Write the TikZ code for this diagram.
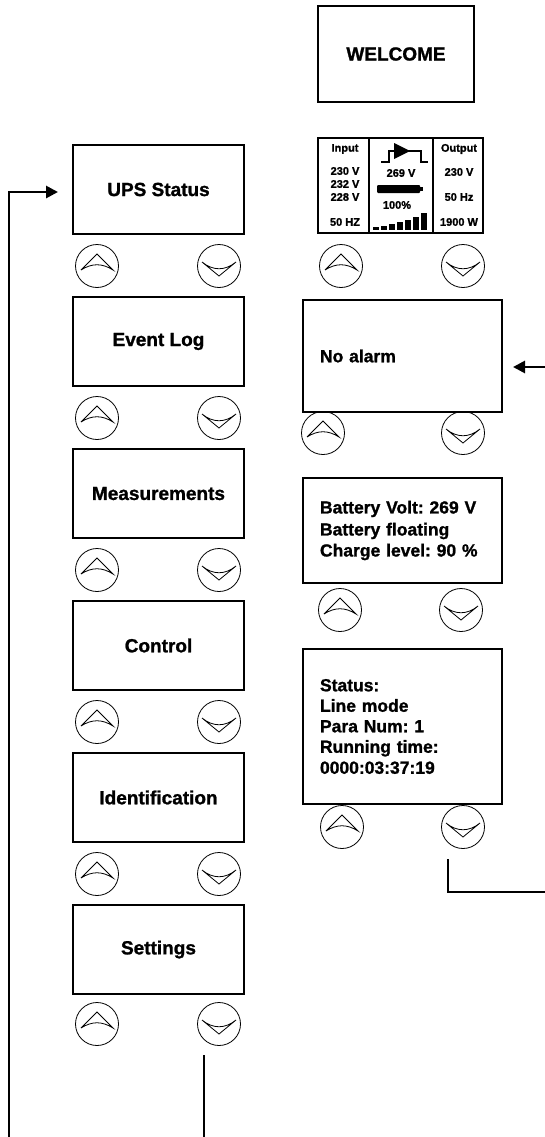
\documentclass[tikz,border=0pt]{standalone}
\usepackage{fontspec}
\setmainfont{Liberation Sans}[BoldFeatures={FakeBold=1.2}]
\usetikzlibrary{arrows.meta}
\frenchspacing

\newcommand{\upkey}[2]{%
  \node[keybtn] (#1) at (#2) {};
  \draw[glyph] ([shift={(-16,4)}]#1.center) -- ([shift={(0,-12)}]#1.center) -- ([shift={(16,4)}]#1.center)
    .. controls ([shift={(5,-3)}]#1.center) and ([shift={(-5,-3)}]#1.center) .. ([shift={(-16,4)}]#1.center);}
\newcommand{\downkey}[2]{%
  \node[keybtn] (#1) at (#2) {};
  \draw[glyph] ([shift={(-17,-4)}]#1.center) -- ([shift={(0,10)}]#1.center) -- ([shift={(17,-4)}]#1.center)
    .. controls ([shift={(6,5)}]#1.center) and ([shift={(-6,5)}]#1.center) .. ([shift={(-17,-4)}]#1.center);}

\begin{document}
\begin{tikzpicture}[x=1pt, y=-1pt,
	menubox/.style={rectangle, draw=black, line width=2.8pt, minimum width=171pt, minimum height=89pt, font=\fontsize{19}{22}\selectfont\bfseries},
	screen/.style={rectangle, draw=black, line width=2.8pt, inner xsep=17pt, text width=165pt, align=left, font=\fontsize{17.5}{21}\selectfont\bfseries},
	keybtn/.style={circle, draw=black, line width=0.8pt, minimum size=43pt, inner sep=0pt},
	glyph/.style={line width=0.8pt, line join=miter},
	conn/.style={line width=2.8pt},
	lcd/.style={font=\fontsize{11}{12}\selectfont\bfseries, inner sep=0pt}]
		
		\useasboundingbox (0,0) rectangle (545,1137);
		
		% Menu column
		\node[menubox] (ups) at (158.5, 189.5) {UPS Status};
		\upkey{upsu}{97, 266} \downkey{upsd}{219, 266}
		\node[menubox] (log) at (158.5, 341.5) {Event Log};
		\upkey{logu}{97, 418} \downkey{logd}{219, 418}
		\node[menubox] (meas) at (158.5, 493.5) {Measurements};
		\upkey{measu}{97, 570} \downkey{measd}{219, 570}
		\node[menubox] (ctrl) at (158.5, 645.5) {Control};
		\upkey{ctrlu}{97, 722} \downkey{ctrld}{219, 722}
		\node[menubox] (ident) at (158.5, 797.5) {Identification};
		\upkey{identu}{97, 874} \downkey{identd}{219, 874}
		\node[menubox] (set) at (158.5, 949.5) {Settings};
		\upkey{setu}{97, 1024} \downkey{setd}{219, 1024}
		
		% Screen column
		\node[menubox, minimum width=156pt, minimum height=96pt] (welcome) at (396, 54) {WELCOME};
		
		% LCD view
		\draw[line width=1.2pt] (318, 138) rectangle (483, 233);
		\draw[line width=1.2pt] (369, 138) -- (369, 233);
		\draw[line width=1.2pt] (433, 138) -- (433, 233);
		\node[lcd] (inp) at (345, 149) {Input};
		\node[lcd] (in1) at (345, 171) {230 V};
		\node[lcd] (in2) at (345, 184) {232 V};
		\node[lcd] (in3) at (345, 197) {228 V};
		\node[lcd] (inf) at (345, 222) {50 HZ};
		\node[lcd] (outp) at (459, 149) {Output};
		\node[lcd] (out1) at (459, 172) {230 V};
		\node[lcd] (outf) at (459, 197) {50 Hz};
		\node[lcd] (outw) at (459, 222) {1900 W};
		\draw[line width=1.2pt] (381, 162) -- (389, 162) -- (389, 151) -- (421, 151) -- (421, 162) -- (428, 162);
		\fill (394, 143) -- (410, 151) -- (394, 159) -- cycle;
		\node[lcd] (bv) at (401, 173) {269 V};
		\fill[rounded corners=1pt] (377, 185) rectangle (420, 193);
		\fill (420, 187) rectangle (423, 191);
		\node[lcd] (pct) at (397, 205) {100\%};
		\foreach \bx/\bh in {373/3, 381/4, 389/6, 397/8, 405/10, 413/13, 421/17} {
			\fill (\bx, 230) rectangle ++(6, -\bh);
		}
		
		\upkey{lcdu}{341, 266} \downkey{lcdd}{463, 266}
		\node[screen, minimum height=112pt] (alarm) at (402.5, 356) {No alarm};
		\upkey{alarmu}{323, 433} \downkey{alarmd}{463, 433}
		\node[screen, minimum height=105pt] (batt) at (402.5, 530.5) {\baselineskip=22pt Battery Volt: 269 V\\Battery floating\\Charge level: 90 \%};
		\upkey{battu}{340, 610} \downkey{battd}{461, 610}
		\node[screen, minimum height=155pt] (stat) at (402.5, 726.5) {\baselineskip=20.5pt Status:\\Line mode\\Para Num: 1\\Running time:\\0000:03:37:19};
		\upkey{statu}{342, 827} \downkey{statd}{463, 827}
		
		% Connect
		\coordinate (lbot) at (9, 1137);
		\coordinate (upsin) at (58, 192);
		\draw[conn, -{Triangle[length=12pt, width=12pt]}] (lbot) |- (upsin);
		\coordinate (stop) at (204, 1055);
		\coordinate (sbot) at (204, 1137);
		\draw[conn] (stop) -- (sbot);
		\coordinate (rtop) at (448, 859);
		\coordinate (rend) at (545, 892);
		\draw[conn] (rtop) |- (rend);
		\coordinate (rin) at (545, 367);
		\coordinate (alarmin) at (513, 367);
		\draw[conn, -{Triangle[length=12pt, width=12pt]}] (rin) -- (alarmin);
		
	\end{tikzpicture}
\end{document}
